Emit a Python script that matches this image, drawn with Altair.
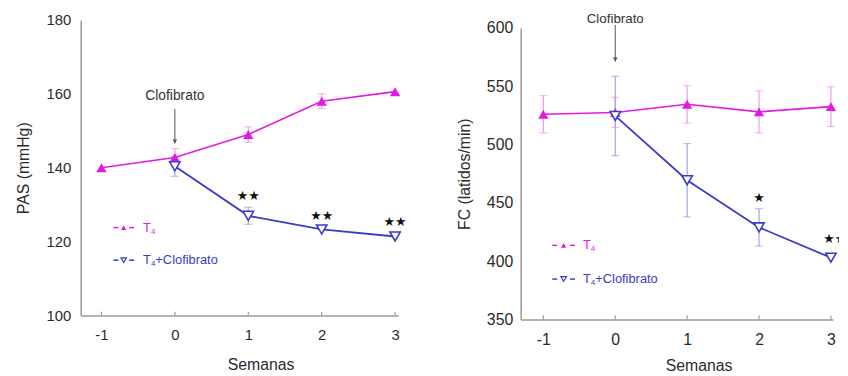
import altair as alt
import pandas as pd

# ---------------- data ----------------
weeks = [-1, 0, 1, 2, 3]
weeks_clof = [0, 1, 2, 3]

# PAS (mmHg)
pas_t4 = [140.0, 142.8, 149.0, 158.0, 160.6]
pas_t4_err = [0, 2.4, 2.1, 2.0, 0]
pas_clof = [140.4, 127.0, 123.3, 121.4]
pas_clof_err = [2.7, 2.3, 0, 0]

# FC (latidos/min)
fc_t4 = [526.0, 527.5, 534.5, 528.0, 532.5]
fc_t4_err = [16, 13, 16, 18, 17]
fc_clof = [524.5, 469.4, 429.0, 403.0]
fc_clof_err = [34, 31.4, 16, 0]

# significance marks
pas_star_x = [1, 2, 3]
pas_star_y = [132.4, 127.0, 125.4]
pas_star_txt = ["★★", "★★", "★★"]
fc_star_x = [2, 3.055]
fc_star_y = [454.0, 419.0]
fc_star_txt = ["★", "★★"]

# annotation "Clofibrato" (text y, arrow top, arrow tip)
pas_clof_note = [159.4, 155.9, 146.6]
fc_clof_note = [607.6, 602.5, 571.2]

# legend placement (data units): dash1 start, dash1 end, marker, dash2 start, dash2 end, text
pas_leg_x = [-0.838, -0.771, -0.697, -0.623, -0.556, -0.434]
pas_leg_y = [123.8, 115.0]
fc_leg_x = [-0.876, -0.808, -0.718, -0.629, -0.560, -0.450]
fc_leg_y = [413.6, 384.7]

groups = ["T4", "T4+Clofibrato"]

FONT = "Liberation Sans"
PINK = "#E21BE2"
BLUE = "#3B3BC9"
PINK_ERR = "#F29AF2"
BLUE_ERR = "#A3A3EA"
AXIS = "#9A9A9A"
TXT = "#2B2B2B"


def series_df(wk, vals, errs, group):
    d = pd.DataFrame({"week": wk, "value": vals, "err": errs, "group": group})
    d["lo"] = d["value"] - d["err"]
    d["hi"] = d["value"] + d["err"]
    return d


def panel(t4, t4e, cl, cle, stars_x, stars_y, stars_t, note, leg_x, leg_y,
          xdomain, ydomain, yvalues, width, height, xrange_, yrange_,
          ytitle, lab_size, lab_pad, ytitle_pad, xtitle_x, xtitle_y, note_size,
          clip_stars):
    xs_kw = dict(domain=xdomain, nice=False, zero=False)
    if xrange_:
        xs_kw["range"] = xrange_
    ys_kw = dict(domain=ydomain, nice=False, zero=False)
    if yrange_:
        ys_kw["range"] = yrange_
    xs = alt.Scale(**xs_kw)
    ys = alt.Scale(**ys_kw)
    xaxis = alt.Axis(values=weeks, labelExpr="'' + datum.value", title="Semanas",
                     labelFontSize=lab_size, labelPadding=12,
                     titleFontSize=16, titleX=xtitle_x, titleY=xtitle_y,
                     titleBaseline="middle", titleAnchor="middle")
    yaxis = alt.Axis(values=yvalues, title=ytitle, labelFontSize=lab_size,
                     labelPadding=lab_pad, titleFontSize=16, titlePadding=ytitle_pad)

    def X(f):
        return alt.X(f"{f}:Q", scale=xs, axis=xaxis)

    def Y(f):
        return alt.Y(f"{f}:Q", scale=ys, axis=yaxis)

    d1 = series_df(weeks, t4, t4e, groups[0])
    d2 = series_df(weeks_clof, cl, cle, groups[1])

    layers = []
    # inward x ticks
    tick_df = pd.DataFrame({"week": weeks})
    layers.append(alt.Chart(tick_df).mark_rule(color=AXIS, strokeWidth=1.2).encode(
        x=X("week"), y=alt.value(height), y2=alt.value(height - 4)))

    # error bars
    for d, c in ((d1, PINK_ERR), (d2, BLUE_ERR)):
        de = d[d["err"] > 0]
        layers.append(alt.Chart(de).mark_rule(color=c, strokeWidth=1.2).encode(
            x=X("week"), y=Y("lo"), y2="hi:Q"))
        for f in ("lo", "hi"):
            layers.append(alt.Chart(de).mark_tick(color=c, orient="horizontal",
                                                  size=8, thickness=1.2).encode(
                x=X("week"), y=Y(f)))

    # lines
    layers.append(alt.Chart(d1).mark_line(color=PINK, strokeWidth=1.6).encode(x=X("week"), y=Y("value")))
    layers.append(alt.Chart(d2).mark_line(color=BLUE, strokeWidth=1.8).encode(x=X("week"), y=Y("value")))
    # markers
    layers.append(alt.Chart(d1).mark_point(shape="triangle-up", filled=True, color=PINK,
                                           size=110, opacity=1).encode(x=X("week"), y=Y("value")))
    layers.append(alt.Chart(d2).mark_point(shape="triangle-down", filled=True, fill="white",
                                           stroke=BLUE, strokeWidth=1.6, size=110,
                                           opacity=1).encode(x=X("week"), y=Y("value")))

    # stars
    sdf = pd.DataFrame({"week": stars_x, "value": stars_y, "label": stars_t})
    layers.append(alt.Chart(sdf).mark_text(font="DejaVu Sans", fontSize=13, color="#111",
                                           clip=clip_stars).encode(
        x=X("week"), y=Y("value"), text="label:N"))

    # Clofibrato annotation
    ndf = pd.DataFrame({"week": [0], "value": [note[0]], "top": [note[1]],
                        "tip": [note[2]], "label": ["Clofibrato"]})
    layers.append(alt.Chart(ndf).mark_text(font=FONT, fontSize=note_size, color="#333").encode(
        x=X("week"), y=Y("value"), text="label:N"))
    layers.append(alt.Chart(ndf).mark_rule(color="#555", strokeWidth=1).encode(
        x=X("week"), y=Y("top"), y2="tip:Q"))
    layers.append(alt.Chart(ndf).mark_point(shape="triangle-down", filled=True, color="#555",
                                            size=22, opacity=1, yOffset=-2).encode(
        x=X("week"), y=Y("tip")))

    # legend (manual)
    colors = [PINK, BLUE]
    ldf = pd.DataFrame({"group": groups, "value": leg_y,
                        "a0": leg_x[0], "a1": leg_x[1], "m": leg_x[2],
                        "b0": leg_x[3], "b1": leg_x[4], "t": leg_x[5]})
    cscale = alt.Scale(domain=groups, range=colors)
    for s, e in (("a0", "a1"), ("b0", "b1")):
        layers.append(alt.Chart(ldf).mark_rule(strokeWidth=1.5).encode(
            x=X(s), x2=f"{e}:Q", y=Y("value"),
            color=alt.Color("group:N", scale=cscale, legend=None)))
    layers.append(alt.Chart(ldf[ldf.group == groups[0]]).mark_point(
        shape="triangle-up", filled=True, color=PINK, size=30, opacity=1).encode(
        x=X("m"), y=Y("value")))
    layers.append(alt.Chart(ldf[ldf.group == groups[1]]).mark_point(
        shape="triangle-down", filled=False, color=BLUE, strokeWidth=1.2, size=30, opacity=1).encode(
        x=X("m"), y=Y("value")))
    tdf = ldf.copy()
    tdf["T"] = "T"
    tdf["sub"] = "4"
    tdf["rest"] = ["", "+Clofibrato"]
    for col, fs, dx, dy in (("T", 13, 0, 0), ("sub", 8, 8, 4), ("rest", 13, 12.5, 0)):
        layers.append(alt.Chart(tdf).mark_text(font=FONT, fontSize=fs, align="left",
                                               baseline="middle", dx=dx, dy=dy).encode(
            x=X("t"), y=Y("value"), text=f"{col}:N",
            color=alt.Color("group:N", scale=cscale, legend=None)))

    return alt.layer(*layers).properties(width=width, height=height)


left = panel(pas_t4, pas_t4_err, pas_clof, pas_clof_err,
             pas_star_x, pas_star_y, pas_star_txt, pas_clof_note, pas_leg_x, pas_leg_y,
             xdomain=[-1.283, 3.04], ydomain=[100, 180], yvalues=[100, 120, 140, 160, 180],
             width=321, height=299, xrange_=None, yrange_=None,
             ytitle="PAS (mmHg)", lab_size=15, lab_pad=10, ytitle_pad=15,
             xtitle_x=182, xtitle_y=50, note_size=14, clip_stars=False)

right = panel(fc_t4, fc_t4_err, fc_clof, fc_clof_err,
              fc_star_x, fc_star_y, fc_star_txt, fc_clof_note, fc_leg_x, fc_leg_y,
              xdomain=[-1.316, 3.03], ydomain=[350, 600],
              yvalues=[350, 400, 450, 500, 550, 600],
              width=322, height=303, xrange_=[0, 316], yrange_=[303, 8],
              ytitle="FC (latidos/min)", lab_size=16, lab_pad=8, ytitle_pad=14,
              xtitle_x=180, xtitle_y=47, note_size=13.5, clip_stars=True)

chart = alt.hconcat(left, right, spacing=124, bounds="flush").properties(
    padding={"left": 6.5, "top": 2, "right": 0, "bottom": 0}
).configure_view(stroke=None).configure_axis(
    domainColor=AXIS, domainWidth=1.5, grid=False, ticks=False,
    labelFont=FONT, titleFont=FONT, labelColor=TXT, titleColor=TXT,
    titleFontWeight="normal"
)

chart.save("out.html", embed_options={"renderer": "svg", "actions": False})
